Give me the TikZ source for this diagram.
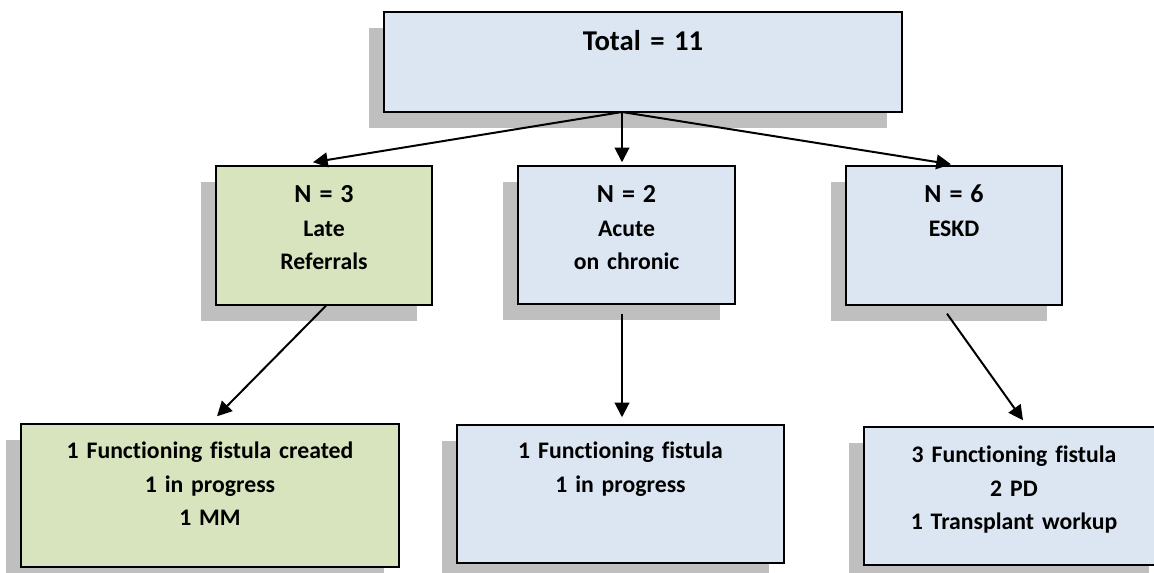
\documentclass[tikz,border=0pt]{standalone}
\usepackage{fontspec}
\setmainfont{Carlito}[Ligatures=NoCommon, WordSpace=0.8]
\usepackage{xcolor}
\definecolor{boxblue}{HTML}{DCE6F2}
\definecolor{boxgreen}{HTML}{D7E4BD}
\definecolor{shadowgrey}{HTML}{BFBFBF}
\usetikzlibrary{arrows.meta,calc,shadows}
\tikzset{
  fbox/.style ={rectangle, draw=black, line width=1.1pt, fill=boxblue, align=center,
                inner sep=0pt, font=\bfseries\fontsize{17.8}{25}\selectfont,
                drop shadow={shadow xshift=-11.25pt, shadow yshift=-12pt,
                             fill=shadowgrey, opacity=1, draw=none}},
  gbox/.style ={fbox, fill=boxgreen},
  arr/.style  ={-{Triangle[length=11pt,width=11pt]}, line width=1.5pt},
}
\newcommand{\bign}[1]{{\fontsize{19.5}{25}\selectfont #1}}

\begin{document}
\begin{tikzpicture}[x=0.75pt, y=-0.75pt]
  \clip (0,0) rectangle (1154,573);
  % top
  \node[fbox, text width=388.5pt, text height=29.25pt, text depth=45.75pt,
        font=\bfseries\fontsize{21.5}{25}\selectfont] (total) at (643,62) {Total = 11};
  % groups
  \node[gbox, text width=162pt, text height=27.75pt, text depth=76.5pt] (late) at (324,235.5) {\bign{N = 3}\\Late\\Referrals};
  \node[fbox, text width=162.75pt, text height=27.75pt, text depth=75.75pt] (acute) at (626.5,235) {\bign{N = 2}\\Acute\\on chronic};
  \node[fbox, text width=162pt, text height=27.75pt, text depth=76.5pt] (eskd) at (954,235.5) {\bign{N = 6}\\ESKD};
  % outcomes
  \node[gbox, text width=283.5pt, text height=26.25pt, text depth=81pt] (bleft) at (210,495.5) {1 Functioning fistula created\\1 in progress\\1 MM};
  \node[fbox, text width=245.25pt, text height=25.5pt, text depth=78pt] (bmid) at (620.5,494) {1 Functioning fistula\\1 in progress};
  \node[fbox, text width=225pt, text height=27pt, text depth=76.5pt] (bright) at (1014,496) {3 Functioning fistula\\2 PD\\1 Transplant workup};
  % arrows
  \coordinate (split) at (622,112);
  \draw[arr] (split) -- ($(late.north)+(-11,-3)$);
  \draw[arr] (split) -- ($(split |- acute.north)+(0,-3)$);
  \draw[arr] (split) -- ($(eskd.north)+(-3,-1)$);
  \draw[arr] ($(late.south)+(2,0)$) -- ($(bleft.north)+(7,-7)$);
  \draw[arr] ($(split |- acute.south)+(0,9)$) -- ($(split |- bmid.north)+(0,-7)$);
  \draw[arr] ($(eskd.south)+(-7,8)$) -- ($(bright.north)+(9,-6)$);
\end{tikzpicture}
\end{document}
